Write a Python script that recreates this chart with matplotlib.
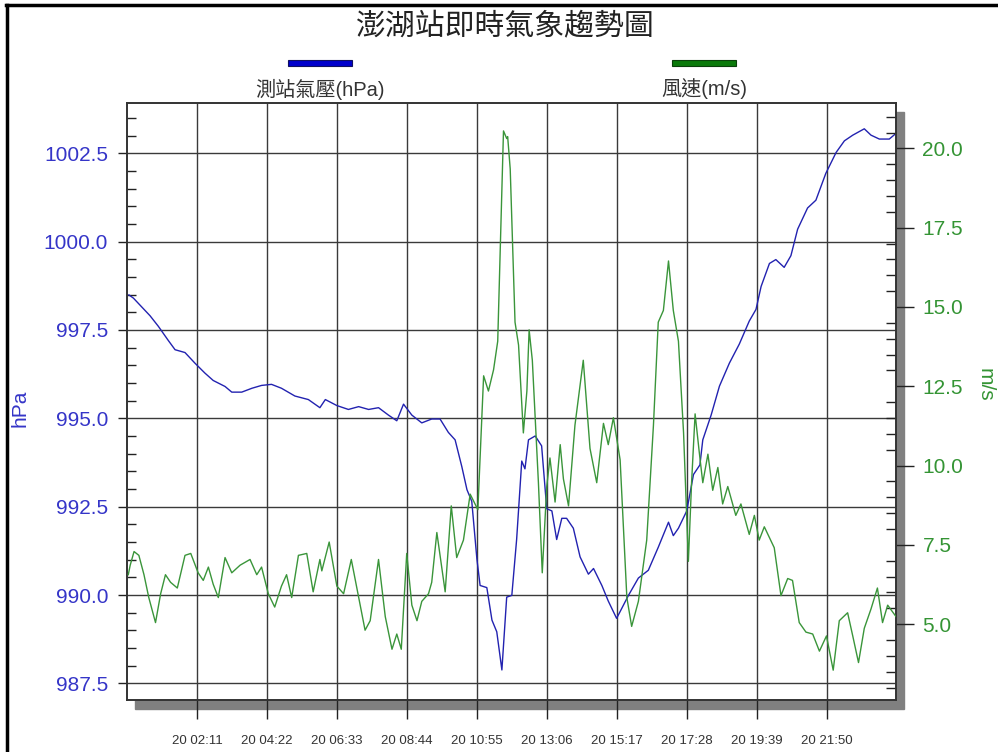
import matplotlib
matplotlib.use("Agg")
import matplotlib.pyplot as plt
from matplotlib.patches import Rectangle
from matplotlib.lines import Line2D
from matplotlib.ticker import MultipleLocator
import numpy as np

plt.rcParams['font.family'] = ['Liberation Sans', 'Noto Sans CJK TC', 'DejaVu Sans']

# --- data (hours of day 20) ---
p_hours = [0.06, 0.2, 0.72, 0.98, 1.29, 1.5, 1.81, 2.12, 2.43, 2.69, 3.06, 3.27, 3.58, 3.9,
           4.2, 4.51, 4.82, 5.24, 5.66, 6.02, 6.19, 6.55, 6.91, 7.23, 7.54, 7.85, 8.16, 8.42,
           8.63, 8.89, 9.2, 9.51, 9.77, 10.03, 10.24, 10.45, 10.61, 10.76, 10.92, 11.02, 11.23,
           11.39, 11.54, 11.7, 11.85, 12.01, 12.16, 12.32, 12.42, 12.53, 12.74, 12.94, 13.1,
           13.26, 13.41, 13.57, 13.72, 13.93, 14.14, 14.4, 14.56, 14.82, 15.02, 15.28, 15.44,
           15.65, 15.96, 16.27, 16.58, 16.9, 17.05, 17.21, 17.47, 17.68, 17.88, 17.97, 18.23,
           18.49, 18.8, 19.11, 19.42, 19.63, 19.79, 20.05, 20.25, 20.51, 20.72, 20.93, 21.24,
           21.5, 21.81, 22.13, 22.39, 22.65, 23.01, 23.22, 23.48, 23.79, 24.0]
pressure = [998.49, 998.4, 997.9, 997.6, 997.2, 996.94, 996.86, 996.56, 996.28, 996.07, 995.9,
            995.74, 995.74, 995.85, 995.93, 995.96, 995.85, 995.63, 995.53, 995.3, 995.53,
            995.36, 995.25, 995.33, 995.25, 995.3, 995.09, 994.93, 995.4, 995.09, 994.87,
            994.98, 994.98, 994.6, 994.39, 993.63, 992.98, 992.65, 991.02, 990.27, 990.21,
            989.29, 988.96, 987.88, 989.94, 989.99, 991.57, 993.79, 993.57, 994.39, 994.5,
            994.22, 992.44, 992.38, 991.57, 992.17, 992.17, 991.89, 991.08, 990.59, 990.75,
            990.27, 989.83, 989.34, 989.62, 989.99, 990.48, 990.7, 991.35, 992.06, 991.68,
            991.89, 992.38, 993.41, 993.68, 994.39, 995.09, 995.91, 996.56, 997.1, 997.75,
            998.08, 998.73, 999.38, 999.49, 999.27, 999.6, 1000.35, 1000.95, 1001.17, 1001.93,
            1002.52, 1002.85, 1003.01, 1003.19, 1003.01, 1002.9, 1002.9, 1003.06]

w_hours = [0.04, 0.1, 0.22, 0.37, 0.53, 0.68, 0.89, 1.05, 1.2, 1.36, 1.57, 1.81, 1.99, 2.22,
           2.38, 2.54, 2.69, 2.85, 3.06, 3.27, 3.53, 3.84, 4.05, 4.2, 4.41, 4.61, 4.82, 4.98,
           5.14, 5.35, 5.61, 5.81, 6.02, 6.08, 6.31, 6.55, 6.76, 7.0, 7.23, 7.43, 7.59, 7.85,
           8.06, 8.27, 8.42, 8.56, 8.73, 8.89, 9.05, 9.2, 9.41, 9.51, 9.67, 9.93, 10.12, 10.29,
           10.5, 10.71, 10.95, 11.13, 11.28, 11.44, 11.57, 11.68, 11.75, 11.85, 11.88, 11.96,
           12.11, 12.22, 12.37, 12.48, 12.55, 12.65, 12.84, 12.96, 13.1, 13.2, 13.36, 13.52,
           13.62, 13.78, 13.98, 14.24, 14.45, 14.66, 14.87, 15.02, 15.18, 15.39, 15.6, 15.75,
           15.96, 16.22, 16.43, 16.58, 16.74, 16.9, 17.05, 17.21, 17.37, 17.52, 17.62, 17.73,
           17.86, 17.97, 18.13, 18.28, 18.44, 18.59, 18.75, 19.0, 19.16, 19.42, 19.58, 19.73,
           19.89, 20.2, 20.41, 20.62, 20.77, 20.98, 21.19, 21.4, 21.61, 21.83, 22.04, 22.23,
           22.49, 22.65, 22.83, 23.01, 23.22, 23.42, 23.58, 23.74, 24.0]
wind = [6.56, 6.86, 7.29, 7.17, 6.56, 5.84, 5.05, 5.96, 6.56, 6.32, 6.14, 7.17, 7.23, 6.62,
        6.38, 6.8, 6.26, 5.84, 7.1, 6.62, 6.86, 7.04, 6.56, 6.8, 5.96, 5.54, 6.2, 6.56, 5.84,
        7.17, 7.23, 6.02, 7.04, 6.68, 7.59, 6.2, 5.96, 7.04, 5.84, 4.81, 5.11, 7.04, 5.24,
        4.21, 4.69, 4.21, 7.23, 5.6, 5.11, 5.72, 5.96, 6.32, 7.89, 6.02, 8.73, 7.1, 7.65, 9.1,
        8.61, 12.83, 12.35, 13.02, 13.92, 17.9, 20.55, 20.31, 20.37, 19.35, 14.52, 13.8,
        11.03, 12.35, 14.28, 13.32, 9.46, 6.62, 9.34, 10.24, 8.85, 10.66, 9.58, 8.73, 11.27,
        13.32, 10.54, 9.46, 11.33, 10.66, 11.51, 10.18, 5.84, 4.93, 5.72, 7.65, 11.27, 14.52,
        14.89, 16.45, 14.89, 13.92, 11.03, 6.98, 9.46, 11.63, 10.42, 9.46, 10.36, 9.22, 9.94,
        8.79, 9.34, 8.43, 8.79, 7.83, 8.43, 7.65, 8.07, 7.41, 5.9, 6.44, 6.38, 5.05, 4.75,
        4.69, 4.15, 4.63, 3.55, 5.11, 5.36, 4.63, 3.79, 4.87, 5.48, 6.14, 5.05, 5.6, 5.24]

x_labels = ["20 02:11", "20 04:22", "20 06:33", "20 08:44", "20 10:55",
            "20 13:06", "20 15:17", "20 17:28", "20 19:39", "20 21:50"]
x_ticks = [int(s[3:5]) + int(s[6:8]) / 60 for s in x_labels]

title = "澎湖站即時氣象趨勢圖"
p_name = "測站氣壓(hPa)"
w_name = "風速(m/s)"

blue = "#2222b0"
green = "#3a953a"
blue_txt = "#3535c8"
green_txt = "#349434"

W, H = 998, 752
fig = plt.figure(figsize=(W / 100, H / 100), dpi=100)

def fx(px):
    return px / W

def fy(py):
    return 1 - py / H

L, R, T, B = 127, 896, 103, 700

# shadow
fig.patches.append(Rectangle((fx(L + 8), fy(B + 9)), fx(R - L), (B - T) / H,
                             transform=fig.transFigure, color="#808080", zorder=0))

ax = fig.add_axes([fx(L), fy(B), fx(R - L), (B - T) / H], zorder=2)
ax.set_facecolor("white")
ax2 = ax.twinx()

ax.plot(p_hours, pressure, color=blue, lw=1.0, zorder=3)
ax2.plot(w_hours, wind, color=green, lw=1.0, zorder=3)

ax.set_xlim(0, 24)
ax.set_ylim(987.03, 1003.92)
ax2.set_ylim(2.61, 21.43)

ax.set_yticks(np.arange(987.5, 1003, 2.5))
ax.set_yticklabels([f"{v:.1f}" for v in np.arange(987.5, 1003, 2.5)])
ax.yaxis.set_minor_locator(MultipleLocator(0.5))
ax2.set_yticks(np.arange(5, 21, 2.5))
ax2.set_yticklabels([f"{v:.1f}" for v in np.arange(5, 21, 2.5)])
ax2.yaxis.set_minor_locator(MultipleLocator(0.5))
ax.set_xticks(x_ticks)
ax.set_xticklabels(x_labels)

ax.grid(True, which="major", color="#3a3a3a", lw=1.0)
ax.set_axisbelow(True)

ax.tick_params(axis="y", which="major", direction="out", length=6.5, width=1,
               labelsize=15, labelcolor=blue_txt, pad=7, color="#222222")
ax.tick_params(axis="y", which="minor", direction="in", length=6.5, width=1, color="#222222")
ax2.tick_params(axis="y", which="major", direction="out", length=13, width=1,
                labelsize=15, labelcolor=green_txt, pad=6, color="#222222")
ax2.tick_params(axis="y", which="minor", direction="in", length=7, width=1, color="#222222")
ax.tick_params(axis="x", which="major", direction="out", length=14, width=1,
               labelsize=9.5, labelcolor="#333333", pad=11, color="#222222")

for a in (ax, ax2):
    for s in a.spines.values():
        s.set_color("#333333")
        s.set_linewidth(1.2)

# titles / legend
fig.text(fx(505), fy(27), title, ha="center", va="center", fontsize=21.5,
         color="#222222", family=['Noto Sans CJK TC', 'DejaVu Sans'])
fig.patches.append(Rectangle((fx(288), fy(66)), fx(64), 6 / H, transform=fig.transFigure,
                             facecolor="#0000cc", edgecolor="#101060", lw=0.8))
fig.patches.append(Rectangle((fx(672), fy(66)), fx(64), 6 / H, transform=fig.transFigure,
                             facecolor="#0a7a0a", edgecolor="#0a400a", lw=0.8))
fig.text(fx(320), fy(89), p_name, ha="center", va="center", fontsize=14.5, color="#333333")
fig.text(fx(704), fy(89), w_name, ha="center", va="center", fontsize=14.5, color="#333333")

fig.text(fx(20), fy(408), "hPa", ha="center", va="center", rotation=90,
         fontsize=15, color=blue_txt)
fig.text(fx(985), fy(385), "m/s", ha="center", va="center", rotation=270,
         fontsize=15, color=green_txt)

# outer frame (left and top)
fig.add_artist(Line2D([fx(7), fx(7)], [0, fy(5)], transform=fig.transFigure,
                      color="black", lw=2.5))
fig.add_artist(Line2D([fx(6), 1], [fy(5), fy(5)], transform=fig.transFigure,
                      color="black", lw=2.5))

fig.savefig("out.png", dpi=100, facecolor="white")
